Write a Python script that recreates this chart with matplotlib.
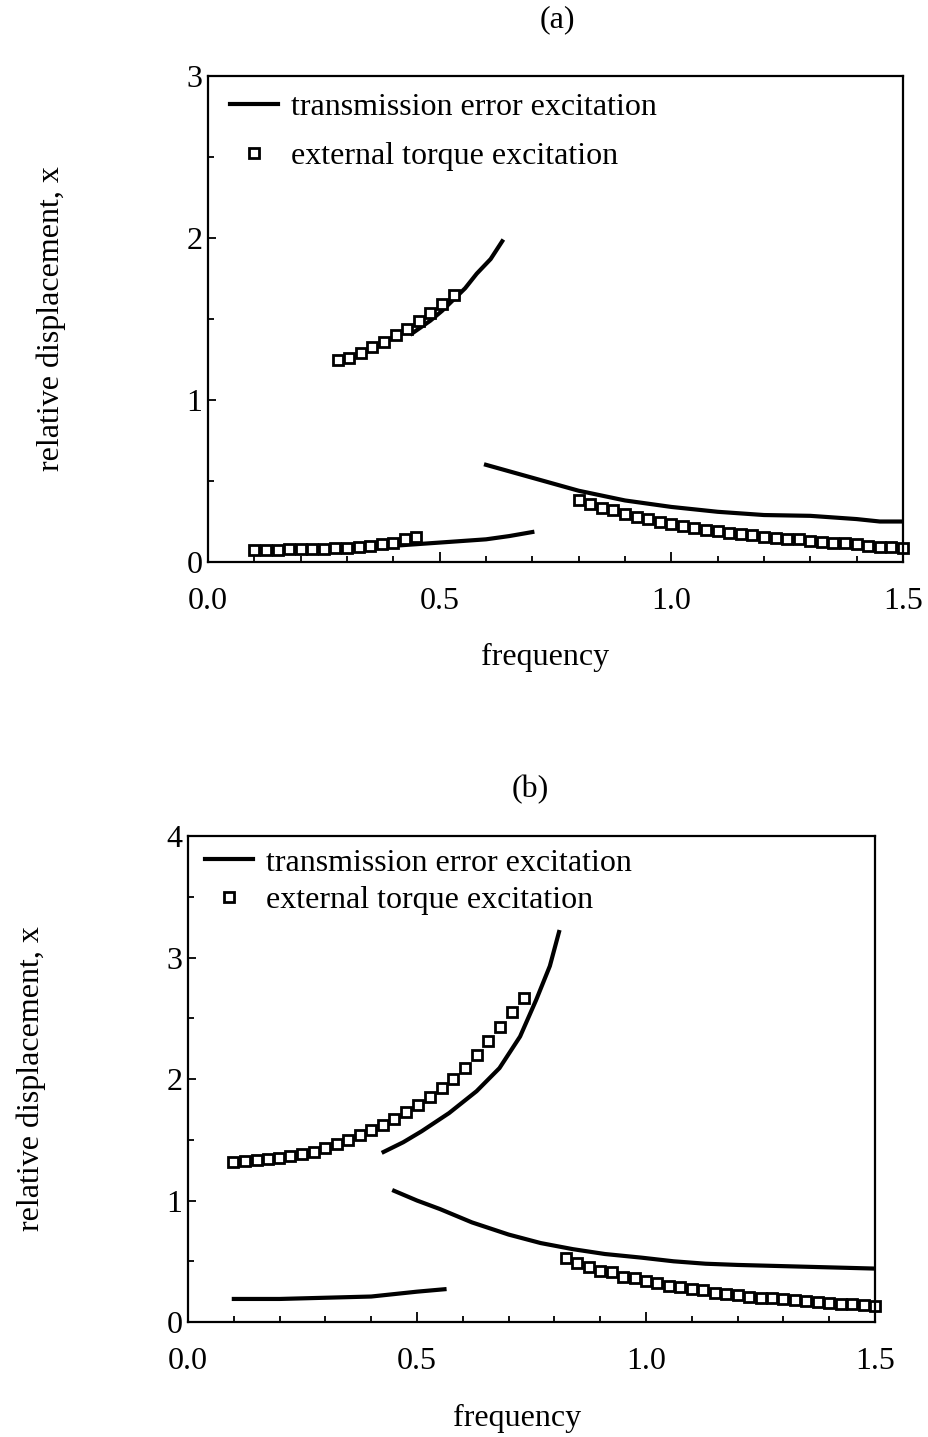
import matplotlib
matplotlib.use('Agg')
import matplotlib.pyplot as plt
from matplotlib.ticker import MultipleLocator

plt.rcParams['font.family'] = ['Liberation Serif', 'DejaVu Serif']
plt.rcParams['font.size'] = 23

# ---- dados painel (a) ----
freq_a_lin_baixo = [0.10, 0.20, 0.30, 0.40, 0.45, 0.50, 0.55, 0.60, 0.65, 0.70]
desl_a_lin_baixo = [0.075, 0.08, 0.085, 0.10, 0.11, 0.12, 0.13, 0.14, 0.16, 0.185]

freq_a_lin_cima = [0.44, 0.46, 0.48, 0.505, 0.53, 0.555, 0.58, 0.61, 0.635]
desl_a_lin_cima = [1.41, 1.45, 1.49, 1.55, 1.62, 1.69, 1.78, 1.87, 1.98]

freq_a_lin_dir = [0.60, 0.70, 0.80, 0.90, 1.00, 1.10, 1.20, 1.30, 1.40, 1.45, 1.50]
desl_a_lin_dir = [0.60, 0.52, 0.44, 0.38, 0.34, 0.31, 0.29, 0.285, 0.265, 0.25, 0.25]

freq_a_q_baixo = [0.100, 0.125, 0.150, 0.175, 0.200, 0.225, 0.250, 0.275,
                  0.300, 0.325, 0.350, 0.375, 0.400, 0.425, 0.450]
desl_a_q_baixo = [0.075, 0.075, 0.077, 0.078, 0.08, 0.08, 0.082, 0.085,
                  0.088, 0.09, 0.10, 0.11, 0.12, 0.14, 0.155]

freq_a_q_cima = [0.280, 0.305, 0.330, 0.355, 0.380, 0.405, 0.430, 0.455, 0.480, 0.505, 0.530]
desl_a_q_cima = [1.25, 1.26, 1.29, 1.33, 1.36, 1.40, 1.44, 1.49, 1.54, 1.59, 1.65]

freq_a_q_dir = [0.800, 0.825, 0.850, 0.875, 0.900, 0.925, 0.950, 0.975, 1.000, 1.025,
                1.050, 1.075, 1.100, 1.125, 1.150, 1.175, 1.200, 1.225, 1.250, 1.275,
                1.300, 1.325, 1.350, 1.375, 1.400, 1.425, 1.450, 1.475, 1.500]
desl_a_q_dir = [0.38, 0.36, 0.335, 0.32, 0.295, 0.28, 0.265, 0.25, 0.235, 0.225,
                0.21, 0.20, 0.19, 0.18, 0.17, 0.165, 0.155, 0.15, 0.145, 0.14,
                0.13, 0.125, 0.12, 0.115, 0.11, 0.10, 0.095, 0.09, 0.085]

# ---- dados painel (b) ----
freq_b_lin_baixo = [0.10, 0.20, 0.30, 0.40, 0.45, 0.50, 0.56]
desl_b_lin_baixo = [0.19, 0.19, 0.20, 0.21, 0.23, 0.25, 0.27]

freq_b_lin_cima = [0.427, 0.47, 0.51, 0.57, 0.63, 0.68, 0.725, 0.76, 0.79, 0.81]
desl_b_lin_cima = [1.40, 1.48, 1.57, 1.72, 1.90, 2.09, 2.35, 2.65, 2.93, 3.21]

freq_b_lin_dir = [0.45, 0.50, 0.55, 0.62, 0.70, 0.77, 0.84, 0.91, 0.99, 1.06,
                  1.13, 1.20, 1.30, 1.40, 1.50]
desl_b_lin_dir = [1.08, 1.00, 0.93, 0.82, 0.72, 0.65, 0.60, 0.56, 0.53, 0.50,
                  0.48, 0.47, 0.46, 0.45, 0.44]

freq_b_q_cima = [0.099, 0.124, 0.150, 0.175, 0.199, 0.223, 0.248, 0.274, 0.299, 0.325,
                 0.350, 0.376, 0.399, 0.425, 0.449, 0.477, 0.503, 0.528, 0.554, 0.579,
                 0.605, 0.631, 0.656, 0.681, 0.707, 0.734]
desl_b_q_cima = [1.32, 1.325, 1.33, 1.34, 1.35, 1.37, 1.38, 1.40, 1.43, 1.465,
                 1.50, 1.54, 1.58, 1.625, 1.67, 1.73, 1.79, 1.855, 1.925, 2.00,
                 2.09, 2.195, 2.31, 2.43, 2.55, 2.67]

freq_b_q_dir = [0.825, 0.850, 0.875, 0.900, 0.925, 0.950, 0.975, 1.000, 1.025, 1.050,
                1.075, 1.100, 1.125, 1.150, 1.175, 1.200, 1.225, 1.250, 1.275, 1.300,
                1.325, 1.350, 1.375, 1.400, 1.425, 1.450, 1.475, 1.500]
desl_b_q_dir = [0.53, 0.49, 0.45, 0.42, 0.41, 0.37, 0.36, 0.34, 0.32, 0.30,
                0.29, 0.27, 0.26, 0.24, 0.23, 0.22, 0.21, 0.20, 0.195, 0.19,
                0.18, 0.17, 0.165, 0.16, 0.15, 0.145, 0.14, 0.13]

xticks = [0.0, 0.5, 1.0, 1.5]
xtick_labels = ['0.0', '0.5', '1.0', '1.5']
nome_linha = 'transmission error excitation'
nome_quad = 'external torque excitation'

lw = 3.0
estilo_q = dict(linestyle='none', marker='s', markersize=7, markerfacecolor='white',
                markeredgecolor='black', markeredgewidth=2.0, clip_on=False)

fig = plt.figure(figsize=(9.29, 14.37), dpi=100)
ax_a = fig.add_axes([0.2239, 0.6089, 0.7481, 0.3382])
ax_b = fig.add_axes([0.2024, 0.0800, 0.7395, 0.3382])

# painel (a)
ax_a.plot(freq_a_lin_baixo, desl_a_lin_baixo, color='black', lw=lw, label=nome_linha)
ax_a.plot(freq_a_lin_cima, desl_a_lin_cima, color='black', lw=lw)
ax_a.plot(freq_a_lin_dir, desl_a_lin_dir, color='black', lw=lw)
ax_a.plot(freq_a_q_baixo, desl_a_q_baixo, label=nome_quad, **estilo_q)
ax_a.plot(freq_a_q_cima, desl_a_q_cima, **estilo_q)
ax_a.plot(freq_a_q_dir, desl_a_q_dir, **estilo_q)

# painel (b)
ax_b.plot(freq_b_lin_baixo, desl_b_lin_baixo, color='black', lw=lw, label=nome_linha)
ax_b.plot(freq_b_lin_cima, desl_b_lin_cima, color='black', lw=lw)
ax_b.plot(freq_b_lin_dir, desl_b_lin_dir, color='black', lw=lw)
ax_b.plot(freq_b_q_cima, desl_b_q_cima, label=nome_quad, **estilo_q)
ax_b.plot(freq_b_q_dir, desl_b_q_dir, **estilo_q)

for ax, ymax, titulo, ylab_x, xlab_xy, tit_xy, leg_xy, espaco in [
        (ax_a, 3, '(a)', -0.204, (0.485, -0.167), (0.502, 1.115), (0.032, 0.966), 0.62),
        (ax_b, 4, '(b)', -0.207, (0.479, -0.169), (0.498, 1.976 - 0.881), (0.025, 0.975), 0.25)]:
    ax.set_xlim(0, 1.5)
    ax.set_ylim(0, ymax)
    ax.set_xticks(xticks)
    ax.set_xticklabels(xtick_labels)
    ax.xaxis.set_minor_locator(MultipleLocator(0.1))
    ax.yaxis.set_major_locator(MultipleLocator(1))
    ax.yaxis.set_minor_locator(MultipleLocator(0.5))
    ax.tick_params(which='both', direction='in', top=False, right=False, width=1.3)
    ax.tick_params(axis='x', which='major', length=7, pad=18)
    ax.tick_params(axis='x', which='minor', length=4)
    ax.tick_params(axis='y', which='major', length=6, pad=4)
    ax.tick_params(axis='y', which='minor', length=4)
    for s in ax.spines.values():
        s.set_linewidth(1.6)
    ax.set_xlabel('frequency')
    ax.xaxis.set_label_coords(*xlab_xy)
    ax.set_ylabel('relative displacement, x')
    ax.yaxis.set_label_coords(ylab_x, 0.5)
    ax.text(tit_xy[0], tit_xy[1], titulo, transform=ax.transAxes, ha='center', va='center')
    ax.legend(loc='upper left', bbox_to_anchor=leg_xy, frameon=False, borderpad=0,
              borderaxespad=0, handlelength=1.5, handletextpad=0.4,
              labelspacing=espaco, numpoints=1)

plt.savefig('out.png', dpi=100)
